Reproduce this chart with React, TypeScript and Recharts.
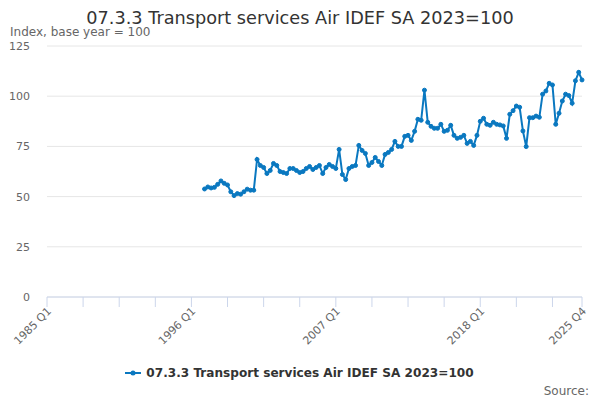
import { CartesianGrid, Legend, Line, LineChart, XAxis, YAxis } from "recharts";

const SERIES_NAME = "07.3.3 Transport services Air IDEF SA 2023=100";
const FIRST_YEAR = 1985;
const LAST_YEAR = 2025;
const DATA_START = "1997 Q1";

// quarterly index values, 1997 Q1 to 2025 Q4
const airIndex = [
  53.8, 54.8, 54.3, 54.6, // 1997
  56.1, 57.8, 56.6, 55.8, // 1998
  52.4, 50.5, 51.5, 51.2, // 1999
  52.4, 53.7, 53.2, 53.2, // 2000
  68.5, 65.5, 64.5, 61.5, // 2001
  63, 66.5, 65.5, 62.5, // 2002
  62, 61.5, 64, 64, // 2003
  63, 62, 62.5, 64, // 2004
  65, 63.5, 64.5, 65.5, // 2005
  61.5, 64.5, 66, 65, // 2006
  64, 73.5, 61, 58.5, // 2007
  64, 65, 65.5, 75.5, // 2008
  73, 71.5, 65.5, 67, // 2009
  69.5, 67.5, 65.5, 71, // 2010
  72, 73.5, 77.5, 75, // 2011
  75, 80, 80.5, 78, // 2012
  82.5, 88.5, 88, 103, // 2013
  87, 85, 84, 84, // 2014
  86, 82.5, 83, 85.5, // 2015
  80.5, 79, 79.5, 80.5, // 2016
  76.5, 77.5, 75.5, 80.5, // 2017
  87.5, 89, 86, 85.5, // 2018
  87, 86, 85.7, 85.2, // 2019
  79, 91, 92.8, 95.1, // 2020
  94.5, 82.7, 74.9, 89.3, // 2021
  89.3, 90.1, 89.5, 101, // 2022
  102.6, 106.4, 105.6, 86, // 2023
  91.5, 97.6, 101, 100.3, // 2024
  96.5, 107.7, 111.9, 108.1, // 2025
];

const yTicks = [0, 25, 50, 75, 100, 125];
const labelledTicks = ["1985 Q1", "1996 Q1", "2007 Q1", "2018 Q1", "2025 Q4"];

const quarters: string[] = [];
for (let y = FIRST_YEAR; y <= LAST_YEAR; y++) {
  for (let q = 1; q <= 4; q++) quarters.push(`${y} Q${q}`);
}
const startIdx = quarters.indexOf(DATA_START);
const data = quarters.map((q, i) => ({
  quarter: q,
  value: i >= startIdx ? airIndex[i - startIdx] : null,
}));
// a tick every 11 quarters, plus the last one
const xTicks = [
  ...quarters.filter((_, i) => i % 11 === 0),
  quarters[quarters.length - 1],
];

const BLUE = "#0a78c0";
const FONT = "'DejaVu Sans', sans-serif";

function QuarterTick({ x, y, payload }: any) {
  if (!labelledTicks.includes(payload.value)) return null;
  return (
    <g transform={`translate(${x + 1},${y - 1})`}>
      <text
        x={0}
        y={0}
        dy="0.5em"
        textAnchor="end"
        transform="rotate(-45)"
        fill="#666666"
        fontSize={11}
        fontFamily={FONT}
      >
        {payload.value}
      </text>
    </g>
  );
}

function LegendBox() {
  return (
    <div
      style={{
        height: 43,
        display: "flex",
        justifyContent: "center",
        alignItems: "flex-start",
        paddingTop: 8,
        paddingLeft: 16,
        boxSizing: "border-box",
      }}
    >
      <svg width={18} height={16} style={{ marginRight: 4 }}>
        <line x1={1} y1={8} x2={17} y2={8} stroke={BLUE} strokeWidth={2} />
        <circle cx={9} cy={8} r={2.5} fill={BLUE} />
      </svg>
      <span
        style={{
          fontSize: 12.1,
          fontWeight: "bold",
          color: "#333333",
          lineHeight: "16px",
        }}
      >
        {SERIES_NAME}
      </span>
    </div>
  );
}

export default function App() {
  return (
    <div
      style={{
        position: "relative",
        width: 600,
        height: 400,
        fontFamily: FONT,
        background: "#ffffff",
      }}
    >
      <style>{"body{margin:0}"}</style>
      <div
        style={{
          position: "absolute",
          top: 7,
          left: 0,
          width: 600,
          textAlign: "center",
          fontSize: 17.7,
          color: "#333333",
          lineHeight: "22px",
        }}
      >
        {SERIES_NAME}
      </div>
      <div
        style={{
          position: "absolute",
          top: 24,
          left: 10,
          fontSize: 12,
          color: "#666666",
          lineHeight: "16px",
        }}
      >
        Index, base year = 100
      </div>
      <div
        style={{
          position: "absolute",
          top: 383,
          right: 11,
          fontSize: 12,
          color: "#666666",
          lineHeight: "16px",
        }}
      >
        Source:
      </div>
      <LineChart
        width={600}
        height={400}
        data={data}
        margin={{ top: 46, right: 18, bottom: 0, left: 0 }}
      >
        <CartesianGrid vertical={false} stroke="#e6e6e6" />
        <XAxis
          dataKey="quarter"
          ticks={xTicks}
          interval={0}
          height={60}
          tickSize={10}
          tickMargin={2}
          stroke="#ccd6eb"
          tick={<QuarterTick />}
        />
        <YAxis
          domain={[0, 125]}
          ticks={yTicks}
          width={47}
          axisLine={false}
          tickLine={false}
          tickSize={0}
          tickMargin={17}
          tick={{ fill: "#666666", fontSize: 11, fontFamily: FONT }}
        />
        <Legend verticalAlign="bottom" content={<LegendBox />} />
        <Line
          type="linear"
          dataKey="value"
          name={SERIES_NAME}
          stroke={BLUE}
          strokeWidth={2}
          dot={{ r: 2, fill: BLUE, stroke: BLUE, strokeWidth: 1 }}
          activeDot={false}
          isAnimationActive={false}
        />
      </LineChart>
    </div>
  );
}
